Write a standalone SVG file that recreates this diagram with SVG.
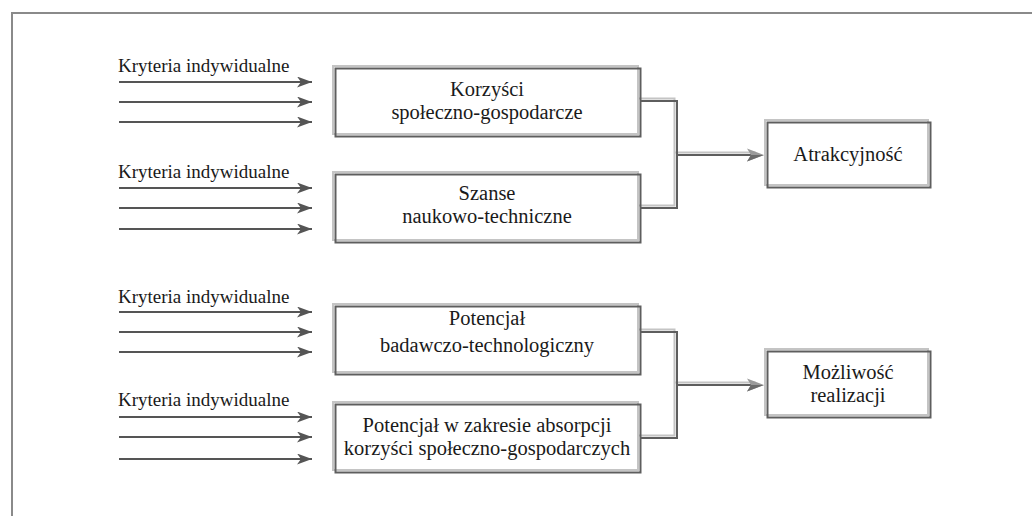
<svg xmlns="http://www.w3.org/2000/svg" xmlns:xlink="http://www.w3.org/1999/xlink" width="1032" height="516" viewBox="0 0 1032 516">
  <style>
    .lbl { font-family: "Liberation Serif", "Times New Roman", serif; font-size: 19px; fill: #1a1a1a; }
    .txt { font-family: "Liberation Serif", "Times New Roman", serif; font-size: 20.5px; fill: #1a1a1a; text-anchor: middle; }
    .in { stroke: #555; stroke-width: 2; fill: none; }
    .hi { stroke: #c4c4c4; stroke-width: 2; fill: none; }
    .lo { stroke: #5e5e5e; stroke-width: 2; fill: none; }
  </style>
  <defs>
    <marker id="head" viewBox="0 0 15 11" refX="15" refY="5.5" markerWidth="15" markerHeight="11" markerUnits="userSpaceOnUse" orient="auto">
      <path d="M0,0 L15,5.5 L0,11 L4,5.5 Z" fill="#555"/>
    </marker>
    <!-- box outline shapes, drawn twice for the bevelled look -->
    <rect id="r1" x="333" y="66" width="305" height="68"/>
    <rect id="r2" x="333" y="172" width="305" height="68"/>
    <rect id="r3" x="333" y="304" width="305" height="68"/>
    <rect id="r4" x="333" y="402" width="305" height="68"/>
    <rect id="r5" x="765" y="120" width="163" height="65"/>
    <rect id="r6" x="765" y="349" width="163" height="66"/>
    <path id="c1" d="M640,101 H677 V208 H640 M677,155 H758"/>
    <path id="c2" d="M640,332 H677 V438 H640 M677,385 H758"/>
  </defs>

  <!-- outer frame -->
  <path d="M12,516 V13 H1032" stroke="#8a8a8a" stroke-width="2" fill="none"/>

  <!-- connectors -->
  <g id="connectors">
    <g class="in" marker-end="url(#head)">
      <path d="M119,82 H312"/>
      <path d="M119,102 H312"/>
      <path d="M119,122 H312"/>
      <path d="M119,188 H312"/>
      <path d="M119,208 H312"/>
      <path d="M119,229 H312"/>
      <path d="M119,312 H312"/>
      <path d="M119,332 H312"/>
      <path d="M119,352 H312"/>
      <path d="M119,417 H312"/>
      <path d="M119,437 H312"/>
      <path d="M119,459 H312"/>
    </g>
    <use xlink:href="#c1" class="hi" transform="translate(-2.5,-2.5)"/>
    <use xlink:href="#c1" class="lo"/>
    <use xlink:href="#c2" class="hi" transform="translate(-2.5,-2.5)"/>
    <use xlink:href="#c2" class="lo"/>
    <path d="M747,148.5 L764,155 L747,161.5 L751,155 Z" fill="#9a9a9a"/>
    <path d="M751,155 L764,155 L747,161.5 Z" fill="#6a6a6a"/>
    <path d="M747,378.5 L764,385 L747,391.5 L751,385 Z" fill="#9a9a9a"/>
    <path d="M751,385 L764,385 L747,391.5 Z" fill="#6a6a6a"/>
  </g>

  <!-- input labels -->
  <g id="labels">
    <text class="lbl" x="118" y="72">Kryteria indywidualne</text>
    <text class="lbl" x="118" y="178">Kryteria indywidualne</text>
    <text class="lbl" x="118" y="303">Kryteria indywidualne</text>
    <text class="lbl" x="118" y="406">Kryteria indywidualne</text>
  </g>

  <g id="korzysci">
    <use xlink:href="#r1" class="hi"/>
    <use xlink:href="#r1" class="lo" transform="translate(2.5,2.5)"/>
    <text class="txt" x="487" y="96">Korzyści</text>
    <text class="txt" x="487" y="119">społeczno-gospodarcze</text>
  </g>

  <g id="szanse">
    <use xlink:href="#r2" class="hi"/>
    <use xlink:href="#r2" class="lo" transform="translate(2.5,2.5)"/>
    <text class="txt" x="487" y="200">Szanse</text>
    <text class="txt" x="487" y="223">naukowo-techniczne</text>
  </g>

  <g id="potencjal-badawczy">
    <use xlink:href="#r3" class="hi"/>
    <use xlink:href="#r3" class="lo" transform="translate(2.5,2.5)"/>
    <text class="txt" x="487" y="325">Potencjał</text>
    <text class="txt" x="487" y="352">badawczo-technologiczny</text>
  </g>

  <g id="potencjal-absorpcji">
    <use xlink:href="#r4" class="hi"/>
    <use xlink:href="#r4" class="lo" transform="translate(2.5,2.5)"/>
    <text class="txt" x="487" y="432">Potencjał w zakresie absorpcji</text>
    <text class="txt" x="487" y="455">korzyści społeczno-gospodarczych</text>
  </g>

  <g id="atrakcyjnosc">
    <use xlink:href="#r5" class="hi"/>
    <use xlink:href="#r5" class="lo" transform="translate(2.5,2.5)"/>
    <text class="txt" x="848" y="161">Atrakcyjność</text>
  </g>

  <g id="mozliwosc">
    <use xlink:href="#r6" class="hi"/>
    <use xlink:href="#r6" class="lo" transform="translate(2.5,2.5)"/>
    <text class="txt" x="848" y="379">Możliwość</text>
    <text class="txt" x="848" y="402">realizacji</text>
  </g>
</svg>
